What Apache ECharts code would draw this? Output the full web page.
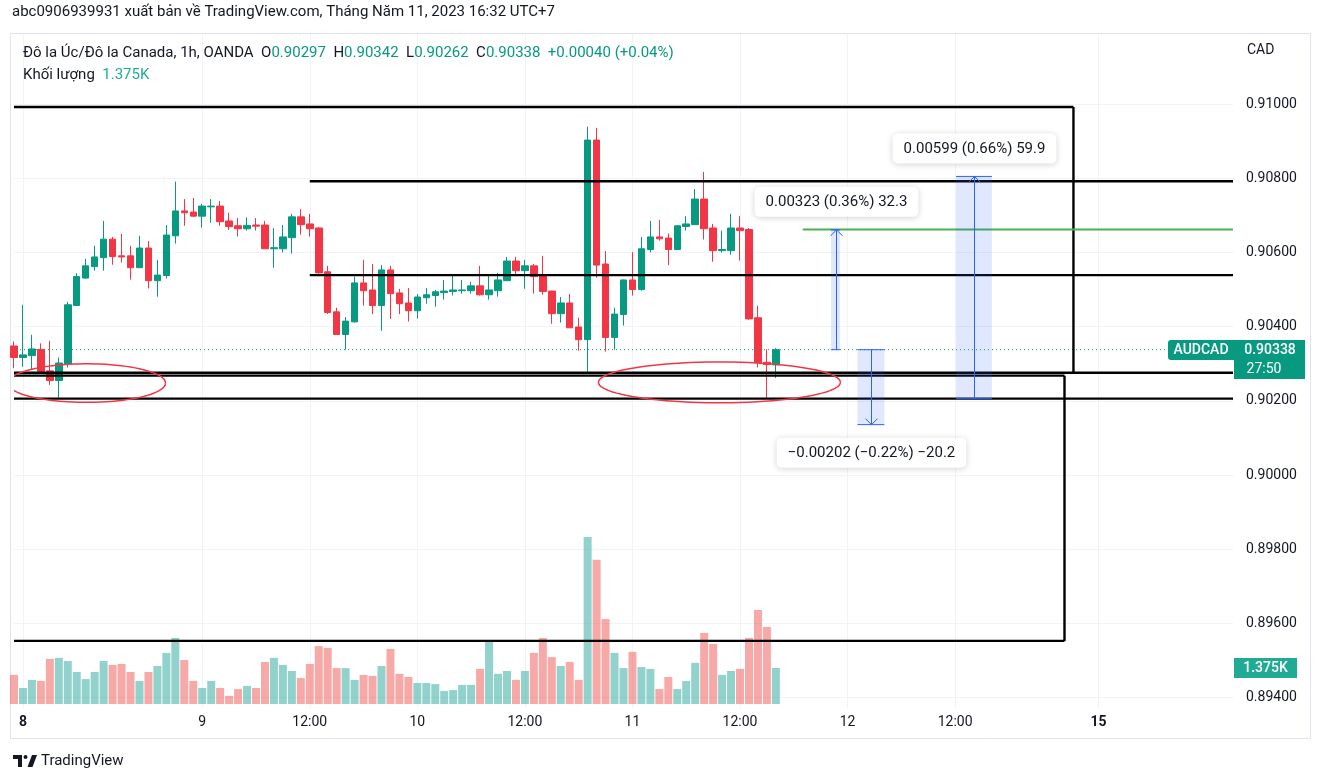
<!DOCTYPE html>
<html>
<head>
<meta charset="utf-8">
<script src="https://cdn.jsdelivr.net/npm/echarts@6/dist/echarts.min.js"></script>
<style>
html,body{margin:0;padding:0;background:#ffffff;}
#c{width:1324px;height:783px;}
</style>
</head>
<body>
<div id="c"></div>
<script>
// ---------------- DATA ----------------
// hourly OHLC [open, high, low, close] – AUDCAD, OANDA, 1h
const ohlc = [
[0.90348,0.90360,0.90288,0.90317],
[0.90317,0.90459,0.90292,0.90324],
[0.90322,0.90378,0.90283,0.90340],
[0.90339,0.90355,0.90277,0.90279],
[0.90281,0.90362,0.90243,0.90255],
[0.90255,0.90317,0.90209,0.90302],
[0.90300,0.90467,0.90290,0.90459],
[0.90457,0.90544,0.90456,0.90535],
[0.90531,0.90583,0.90529,0.90564],
[0.90562,0.90618,0.90551,0.90588],
[0.90586,0.90685,0.90551,0.90636],
[0.90636,0.90642,0.90567,0.90589],
[0.90591,0.90650,0.90573,0.90588],
[0.90591,0.90618,0.90527,0.90559],
[0.90559,0.90645,0.90558,0.90612],
[0.90612,0.90631,0.90503,0.90524],
[0.90524,0.90580,0.90481,0.90539],
[0.90538,0.90674,0.90530,0.90647],
[0.90645,0.90791,0.90624,0.90712],
[0.90712,0.90744,0.90672,0.90707],
[0.90709,0.90747,0.90696,0.90698],
[0.90698,0.90731,0.90667,0.90725],
[0.90723,0.90744,0.90680,0.90725],
[0.90725,0.90739,0.90672,0.90683],
[0.90685,0.90707,0.90661,0.90670],
[0.90672,0.90693,0.90643,0.90664],
[0.90664,0.90695,0.90659,0.90673],
[0.90674,0.90693,0.90659,0.90671],
[0.90674,0.90685,0.90610,0.90610],
[0.90610,0.90666,0.90559,0.90613],
[0.90610,0.90674,0.90600,0.90642],
[0.90640,0.90704,0.90597,0.90696],
[0.90696,0.90717,0.90648,0.90675],
[0.90677,0.90704,0.90643,0.90664],
[0.90666,0.90668,0.90543,0.90545],
[0.90548,0.90564,0.90434,0.90438],
[0.90440,0.90451,0.90378,0.90379],
[0.90379,0.90426,0.90338,0.90415],
[0.90413,0.90535,0.90411,0.90518],
[0.90518,0.90580,0.90457,0.90497],
[0.90499,0.90569,0.90434,0.90457],
[0.90457,0.90566,0.90389,0.90553],
[0.90553,0.90564,0.90421,0.90489],
[0.90491,0.90502,0.90434,0.90462],
[0.90464,0.90504,0.90414,0.90443],
[0.90443,0.90488,0.90422,0.90480],
[0.90478,0.90504,0.90462,0.90486],
[0.90484,0.90499,0.90454,0.90494],
[0.90492,0.90526,0.90473,0.90496],
[0.90495,0.90537,0.90484,0.90499],
[0.90497,0.90526,0.90489,0.90499],
[0.90497,0.90521,0.90489,0.90510],
[0.90510,0.90564,0.90484,0.90486],
[0.90486,0.90537,0.90473,0.90499],
[0.90497,0.90545,0.90481,0.90526],
[0.90524,0.90588,0.90523,0.90577],
[0.90577,0.90588,0.90540,0.90551],
[0.90551,0.90580,0.90502,0.90564],
[0.90564,0.90569,0.90489,0.90535],
[0.90537,0.90591,0.90486,0.90495],
[0.90496,0.90497,0.90408,0.90435],
[0.90435,0.90480,0.90411,0.90464],
[0.90464,0.90488,0.90397,0.90397],
[0.90399,0.90424,0.90335,0.90365],
[0.90365,0.90939,0.90277,0.90903],
[0.90903,0.90936,0.90532,0.90566],
[0.90569,0.90604,0.90333,0.90371],
[0.90371,0.90451,0.90338,0.90434],
[0.90433,0.90527,0.90403,0.90526],
[0.90526,0.90601,0.90484,0.90500],
[0.90500,0.90642,0.90497,0.90610],
[0.90608,0.90685,0.90600,0.90642],
[0.90642,0.90688,0.90632,0.90637],
[0.90639,0.90651,0.90566,0.90608],
[0.90608,0.90672,0.90607,0.90672],
[0.90670,0.90698,0.90659,0.90677],
[0.90675,0.90771,0.90674,0.90744],
[0.90744,0.90817,0.90635,0.90664],
[0.90666,0.90677,0.90575,0.90605],
[0.90605,0.90659,0.90600,0.90608],
[0.90605,0.90704,0.90594,0.90666],
[0.90666,0.90698,0.90578,0.90659],
[0.90662,0.90666,0.90419,0.90421],
[0.90424,0.90456,0.90290,0.90303],
[0.90304,0.90339,0.90206,0.90298],
[0.90297,0.90342,0.90262,0.90338]
];

// volume in thousands
const volumeK = [
1.11,0.61,0.92,0.88,1.72,1.76,1.64,1.22,0.95,1.22,
1.64,1.49,1.53,1.22,0.88,1.22,1.45,1.95,2.52,1.68,
0.88,0.61,0.88,0.61,0.31,0.57,0.69,0.61,1.60,1.76,
1.49,1.26,0.99,1.53,2.21,2.14,1.37,1.37,0.92,1.11,
1.07,1.45,2.10,1.15,1.03,0.80,0.80,0.76,0.50,0.53,
0.73,0.73,1.34,2.37,1.15,1.26,0.92,1.26,1.95,2.52,
1.79,1.45,1.60,0.92,6.37,5.50,3.24,1.95,1.37,1.99,
1.41,1.34,0.57,1.03,0.57,0.88,1.57,2.71,2.29,1.11,
1.26,1.34,2.52,3.59,2.94,1.375
];

// time-axis tick labels: [category index, label]
const tickLabels = [[1,'8'],[21,'9'],[33,'12:00'],[45,'10'],[57,'12:00'],[69,'11'],[81,'12:00'],[93,'12'],[105,'12:00'],[121,'15']];
const boldTicks = ['8','15'];

// price-axis ticks
const priceTicks = [0.894,0.896,0.898,0.900,0.902,0.904,0.906,0.908,0.910];
const priceRange = [0.893722, 0.911916];
const volumeMax = 7.63;

// drawings (category index, price). index 0 = from the left edge, 136 = to the right edge
const blackSegments = [
[0, 0.90992, 118.2, 0.90992],
[118.2, 0.90992, 118.2, 0.90276],
[0, 0.90276, 136, 0.90276],
[0, 0.90268, 117.2, 0.90268],
[117.2, 0.90268, 117.2, 0.89553],
[0, 0.89553, 117.2, 0.89553],
[0, 0.90206, 136, 0.90206],
[33, 0.90792, 136, 0.90792],
[33, 0.90539, 136, 0.90539]
];
const greenSegments = [[88, 0.90662, 136, 0.90662]];
// ellipses [center index, center price, radius (bars), radius (price)]
const ellipses = [[8.1, 0.90248, 8.8, 0.00052], [78.7, 0.90250, 13.5, 0.00055]];
// price-range measures [from index, to index, from price, to price]
const measures = [
[91.15, 92.16, 0.90338, 0.90661],
[94.1, 97.1, 0.90338, 0.90136],
[105.1, 109.1, 0.90206, 0.90805]
];

const symbolTitle = 'Đô la Úc/Đô la Canada, 1h, OANDA';
const publishedLine = 'abc0906939931 xuất bản về TradingView.com, Tháng Năm 11, 2023 16:32 UTC+7';
const countdown = '27:50';
const tickerName = 'AUDCAD';
const currency = 'CAD';

// categories: hourly slots (UTC+7), weekend gap skipped
const categories = [];
(function () {
  function fmt(d) {
    const p = n => (n < 10 ? '0' : '') + n;
    return d.getUTCFullYear() + '-' + p(d.getUTCMonth() + 1) + '-' + p(d.getUTCDate()) + ' ' + p(d.getUTCHours()) + ':00';
  }
  categories.push('2023-05-06 03:00');
  let t = Date.UTC(2023, 4, 8, 4);
  for (let k = 0; k < 120; k++) categories.push(fmt(new Date(t + k * 3600000)));
  t = Date.UTC(2023, 4, 15, 4);
  for (let k = 0; k < 16; k++) categories.push(fmt(new Date(t + k * 3600000)));
})();

// ---------------- CHART ----------------
const UP = '#089981', DOWN = '#f23645';
const VUP = 'rgba(38,166,154,0.5)', VDOWN = 'rgba(239,83,80,0.5)';
const FONT = 'Roboto';
const LAST = categories.length - 1;
const tickMap = {};
tickLabels.forEach(t => { tickMap[t[0]] = t[1]; });
const labelByCat = {};
tickLabels.forEach(t => { labelByCat[categories[t[0]]] = t[1]; });

const last = ohlc[ohlc.length - 1];
const prev = ohlc[ohlc.length - 2];
const lastClose = last[3];
const lastVol = volumeK[volumeK.length - 1];

const chart = echarts.init(document.getElementById('c'));

function xPix(api, idx, price) {
  const c0 = api.coord([0, price]);
  const c1 = api.coord([1, price]);
  return c0[0] + idx * (c1[0] - c0[0]);
}

function segRenderer(color, width, dash) {
  return function (params, api) {
    const cs = params.coordSys;
    let x1 = xPix(api, api.value(0), api.value(1));
    let x2 = xPix(api, api.value(2), api.value(3));
    if (api.value(0) <= 0) x1 = cs.x - 6;
    if (api.value(2) >= LAST) x2 = cs.x + cs.width + 6;
    const y1 = api.coord([0, api.value(1)])[1];
    const y2 = api.coord([0, api.value(3)])[1];
    const st = { stroke: color, lineWidth: width };
    if (dash) st.lineDash = dash;
    return { type: 'line', shape: { x1: x1, y1: y1, x2: x2, y2: y2 }, style: st };
  };
}

function renderEllipse(params, api) {
  const cy = api.coord([0, api.value(1)])[1];
  const cx = xPix(api, api.value(0), api.value(1));
  const rx = xPix(api, api.value(0) + api.value(2), api.value(1)) - cx;
  const ry = Math.abs(api.coord([0, api.value(1) + api.value(3)])[1] - cy);
  const pts = [];
  for (let k = 0; k <= 90; k++) {
    const a = k / 90 * Math.PI * 2;
    pts.push([cx + rx * Math.cos(a), cy + ry * Math.sin(a)]);
  }
  return { type: 'polyline', shape: { points: pts }, style: { stroke: DOWN, lineWidth: 1.5, fill: null } };
}

function renderMeasure(params, api) {
  const from = api.value(2), to = api.value(3);
  const xa = xPix(api, api.value(0), from), xb = xPix(api, api.value(1), from);
  const xm = Math.round((xa + xb) / 2) + 0.5;
  const ya = api.coord([0, from])[1], yb = api.coord([0, to])[1];
  const up = to > from;
  const diff = to - from;
  const s = diff < 0 ? '\u2212' : '';
  const txt = s + Math.abs(diff).toFixed(5) + ' (' + s + Math.abs(diff / from * 100).toFixed(2) + '%) ' + s + Math.abs(diff * 10000).toFixed(1);
  const armY = up ? yb + 6 : yb - 6;
  const blue = '#2962ff';
  return {
    type: 'group',
    children: [
      { type: 'rect', shape: { x: xa, y: Math.min(ya, yb), width: xb - xa, height: Math.abs(yb - ya) }, style: { fill: 'rgba(41,98,255,0.15)' } },
      { type: 'line', shape: { x1: xa, y1: ya, x2: xb, y2: ya }, style: { stroke: blue, lineWidth: 1 } },
      { type: 'line', shape: { x1: xa, y1: yb, x2: xb, y2: yb }, style: { stroke: blue, lineWidth: 1 } },
      { type: 'line', shape: { x1: xm, y1: ya, x2: xm, y2: yb }, style: { stroke: blue, lineWidth: 1 } },
      { type: 'polyline', shape: { points: [[xm - 6, armY], [xm, yb], [xm + 6, armY]] }, style: { stroke: blue, lineWidth: 1, fill: null } },
      {
        type: 'text', x: xm, y: up ? yb - 13 : yb + 13, z2: 10,
        style: {
          text: txt, align: 'center', verticalAlign: up ? 'bottom' : 'top',
          font: '15px ' + FONT, fill: '#131722',
          backgroundColor: '#ffffff', padding: [8, 11, 7, 11], borderRadius: 5,
          shadowBlur: 6, shadowColor: 'rgba(0,0,0,0.18)', shadowOffsetY: 1
        }
      }
    ]
  };
}

const floatDims4 = [{ name: 'a', type: 'float' }, { name: 'b', type: 'float' }, { name: 'c', type: 'float' }, { name: 'd', type: 'float' }];

const option = {
  animation: false,
  backgroundColor: '#ffffff',
  textStyle: { fontFamily: FONT },
  grid: [
    { left: 14, right: 91, top: 33, bottom: 75 },
    { left: 14, right: 91, top: 504, bottom: 79 }
  ],
  xAxis: [
    {
      type: 'category', gridIndex: 0, data: categories, boundaryGap: false,
      axisLine: { show: false }, axisTick: { show: false },
      axisLabel: {
        interval: function (i) { return tickMap[i] !== undefined; },
        formatter: function (v) { const l = labelByCat[v] || ''; return boldTicks.indexOf(l) >= 0 ? '{b|' + l + '}' : l; },
        color: '#131722', fontSize: 14, margin: 7, fontFamily: FONT,
        rich: { b: { fontWeight: 'bold', fontSize: 14, color: '#131722', fontFamily: FONT } }
      },
      splitLine: { show: true, interval: function (i) { return tickMap[i] !== undefined; }, lineStyle: { color: '#f0f3fa', width: 1 } }
    },
    { type: 'category', gridIndex: 1, data: categories, boundaryGap: false, show: false }
  ],
  yAxis: [
    {
      type: 'value', gridIndex: 0, position: 'right', min: priceRange[0], max: priceRange[1],
      axisLine: { show: false },
      axisTick: { show: false, customValues: priceTicks },
      axisLabel: { customValues: priceTicks, formatter: function (v) { return v.toFixed(5); }, color: '#131722', fontSize: 14, margin: 13, fontFamily: FONT },
      splitLine: { show: true, lineStyle: { color: '#f0f3fa', width: 1 } }
    },
    { type: 'value', gridIndex: 1, min: 0, max: volumeMax, show: false, splitLine: { show: false } }
  ],
  series: [
    {
      name: 'volume', type: 'bar', xAxisIndex: 1, yAxisIndex: 1, barWidth: 8, z: 1,
      data: volumeK.map(function (v, i) {
        return { value: v, itemStyle: { color: ohlc[i][3] >= ohlc[i][0] ? VUP : VDOWN } };
      })
    },
    {
      name: 'AUDCAD', type: 'candlestick', xAxisIndex: 0, yAxisIndex: 0, barWidth: 7, z: 3,
      data: ohlc.map(function (d) { return [d[0], d[3], d[2], d[1]]; }),
      itemStyle: { color: UP, color0: DOWN, borderColor: UP, borderColor0: DOWN, borderWidth: 1 }
    },
    {
      type: 'custom', xAxisIndex: 0, yAxisIndex: 0, clip: true, z: 4, silent: true,
      dimensions: floatDims4, encode: { x: 0, y: 1 },
      data: [[0, lastClose, LAST, lastClose]], renderItem: segRenderer(UP, 1, [1, 3])
    },
    {
      type: 'custom', xAxisIndex: 0, yAxisIndex: 0, clip: true, z: 5, silent: true,
      dimensions: floatDims4, encode: { x: 0, y: 1 },
      data: blackSegments, renderItem: segRenderer('#000000', 2.4)
    },
    {
      type: 'custom', xAxisIndex: 0, yAxisIndex: 0, clip: true, z: 5, silent: true,
      dimensions: floatDims4, encode: { x: 0, y: 1 },
      data: greenSegments, renderItem: segRenderer('#4caf50', 2)
    },
    {
      type: 'custom', xAxisIndex: 0, yAxisIndex: 0, clip: true, z: 6, silent: true,
      dimensions: floatDims4, encode: { x: 0, y: 1 },
      data: ellipses, renderItem: renderEllipse
    },
    {
      type: 'custom', xAxisIndex: 0, yAxisIndex: 0, clip: true, z: 7, silent: true,
      dimensions: floatDims4, encode: { x: 0, y: 2 },
      data: measures, renderItem: renderMeasure
    }
  ]
};

chart.setOption(option);

// ---------- header, price-axis labels, frame ----------
const yP = chart.convertToPixel({ yAxisIndex: 0 }, lastClose);
const yV = chart.convertToPixel({ yAxisIndex: 1 }, lastVol);
const chg = last[3] - prev[3];
const chgTxt = (chg >= 0 ? '+' : '\u2212') + Math.abs(chg).toFixed(5) + ' (' + (chg >= 0 ? '+' : '\u2212') + Math.abs(chg / prev[3] * 100).toFixed(2) + '%)';
const vcol = last[3] >= last[0] ? UP : DOWN;
const volTxt = lastVol.toFixed(3) + 'K';

const graphics = [
  { type: 'rect', silent: true, z: 0, shape: { x: 10.5, y: 33.5, width: 1300, height: 705 }, style: { fill: null, stroke: '#e0e3eb', lineWidth: 1 } },
  { type: 'text', silent: true, z: 20, x: 12, y: 12, style: { text: publishedLine, font: '15px ' + FONT, fill: '#131722', verticalAlign: 'middle' } },
  {
    type: 'text', silent: true, z: 20, x: 23, y: 53,
    style: {
      verticalAlign: 'middle', font: '15px ' + FONT, fill: '#131722',
      text: symbolTitle + '  O{v|' + last[0].toFixed(5) + '}  H{v|' + last[1].toFixed(5) + '}  L{v|' + last[2].toFixed(5) + '}  C{v|' + last[3].toFixed(5) + '}  {v|' + chgTxt + '}',
      rich: { v: { fill: vcol, font: '15px ' + FONT } }
    }
  },
  {
    type: 'text', silent: true, z: 20, x: 23, y: 75,
    style: { verticalAlign: 'middle', font: '15px ' + FONT, fill: '#131722', text: 'Khối lượng  {v|' + volTxt + '}', rich: { v: { fill: '#22ab94', font: '15px ' + FONT } } }
  },
  { type: 'text', silent: true, z: 20, x: 1247, y: 50, style: { text: currency, font: '14px ' + FONT, fill: '#131722', verticalAlign: 'middle' } },
  // last price labels
  { type: 'rect', silent: true, z: 20, shape: { x: 1168, y: Math.round(yP) - 10, width: 66, height: 20, r: [3, 0, 0, 3] }, style: { fill: UP } },
  { type: 'text', silent: true, z: 21, x: 1201, y: Math.round(yP), style: { text: tickerName, font: '500 14px ' + FONT, fill: '#ffffff', align: 'center', verticalAlign: 'middle' } },
  { type: 'rect', silent: true, z: 20, shape: { x: 1234, y: Math.round(yP) - 10, width: 71, height: 39 }, style: { fill: UP } },
  { type: 'text', silent: true, z: 21, x: 1270, y: Math.round(yP), style: { text: lastClose.toFixed(5), font: '500 14px ' + FONT, fill: '#ffffff', align: 'center', verticalAlign: 'middle' } },
  { type: 'text', silent: true, z: 21, x: 1264, y: Math.round(yP) + 19, style: { text: countdown, font: '14px ' + FONT, fill: '#ffffff', align: 'center', verticalAlign: 'middle' } },
  { type: 'rect', silent: true, z: 20, shape: { x: 1234, y: Math.round(yV) - 10, width: 63, height: 20 }, style: { fill: '#22ab94' } },
  { type: 'text', silent: true, z: 21, x: 1265.5, y: Math.round(yV), style: { text: volTxt, font: '500 14px ' + FONT, fill: '#ffffff', align: 'center', verticalAlign: 'middle' } },
  // TradingView logo
  { type: 'rect', silent: true, z: 20, shape: { x: 13, y: 755, width: 9, height: 4 }, style: { fill: '#131722' } },
  { type: 'rect', silent: true, z: 20, shape: { x: 18, y: 755, width: 4, height: 12 }, style: { fill: '#131722' } },
  { type: 'circle', silent: true, z: 20, shape: { cx: 25.5, cy: 757, r: 2 }, style: { fill: '#131722' } },
  { type: 'polygon', silent: true, z: 20, shape: { points: [[27.5, 767], [32, 755], [37, 755], [32.5, 767]] }, style: { fill: '#131722' } },
  { type: 'text', silent: true, z: 20, x: 41, y: 761, style: { text: 'TradingView', font: '15px ' + FONT, fill: '#131722', verticalAlign: 'middle' } }
];
chart.setOption({ graphic: graphics });
</script>
</body>
</html>
